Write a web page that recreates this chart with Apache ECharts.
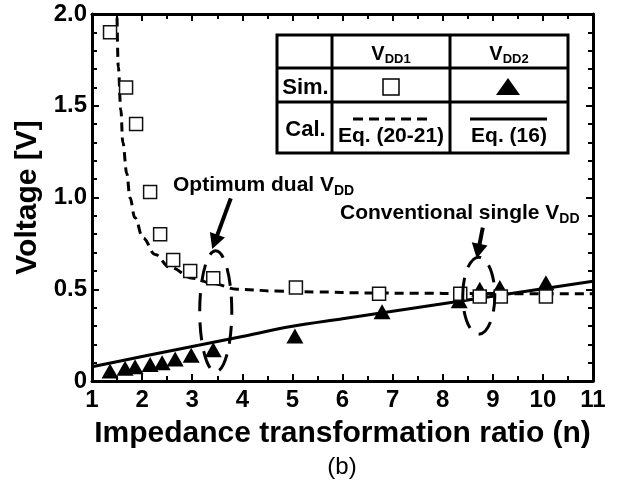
<!DOCTYPE html>
<html><head><meta charset="utf-8">
<script src="https://cdn.jsdelivr.net/npm/echarts@6/dist/echarts.min.js"></script>
<style>html,body{margin:0;padding:0;background:#fff}#c{width:618px;height:482px}</style>
</head><body><div id="c"></div>
<script>
// Simulated VDD1 (open squares)
const sim1X = [1.36, 1.68, 1.88, 2.16, 2.36, 2.62, 2.96, 3.42, 5.07, 6.73, 8.35, 8.74, 9.16, 10.06];
const sim1Y = [1.90, 1.60, 1.40, 1.03, 0.80, 0.66, 0.60, 0.56, 0.51, 0.475, 0.475, 0.46, 0.46, 0.46];
// Simulated VDD2 (filled triangles)
const sim2X = [1.36, 1.66, 1.86, 2.16, 2.40, 2.66, 2.98, 3.42, 5.05, 6.79, 8.33, 8.74, 9.14, 10.06];
const sim2Y = [0.055, 0.07, 0.077, 0.09, 0.10, 0.12, 0.14, 0.17, 0.245, 0.377, 0.437, 0.50, 0.51, 0.535];
// Calculated VDD1, Eq. (20-21) (dashed)
const cal1X = [1.50, 1.525, 1.575, 1.615, 1.695, 1.757, 1.856, 2.018, 2.259, 2.553, 3.016, 3.419, 3.892, 4.689, 5.5, 6.5, 7.5, 8.5, 9.5, 11];
const cal1Y = [1.98, 1.71, 1.48, 1.30, 1.13, 1.00, 0.89, 0.78, 0.69, 0.62, 0.56, 0.53, 0.50, 0.49, 0.485, 0.48, 0.478, 0.477, 0.476, 0.475];
// Calculated VDD2, Eq. (16) (solid)
const cal2X = [1, 2, 3, 4, 5, 6, 7, 8, 9, 10, 11];
const cal2Y = [0.078, 0.133, 0.188, 0.243, 0.298, 0.339, 0.38, 0.421, 0.462, 0.503, 0.544];
// Axis tick labels
const yTickLabels = {0: '0', 0.5: '0.5', 1: '1.0', 1.5: '1.5', 2: '2.0'};
// Annotations (data coordinates): ellipses [cx, cy, rx, ry], arrows [fromX, fromY, toX, toY]
const ellipses = [[3.47, 0.38, 0.32, 0.33], [8.72, 0.465, 0.32, 0.21]];
const arrows = [[3.77, 0.995, 3.40, 0.72], [8.80, 0.836, 8.68, 0.667]];

const FONT = '"Liberation Sans", Arial, Helvetica, sans-serif';
const pair = (xs, ys) => xs.map((x, i) => [x, ys[i]]);
const chart = echarts.init(document.getElementById('c'), null, {renderer: 'canvas'});

const axisCommon = {
  type: 'value',
  axisLine: {show: true, onZero: false, lineStyle: {color: '#000', width: 3}},
  axisTick: {show: true, inside: true, length: 7, lineStyle: {color: '#000', width: 2}},
  minorTick: {show: true, length: 5, lineStyle: {color: '#000', width: 2}},
  splitLine: {show: false}
};
const labelStyle = {fontFamily: FONT, fontWeight: 'bold', fontSize: 24, color: '#000'};
const titleStyle = {fontFamily: FONT, fontWeight: 'bold', fontSize: 30, color: '#000'};

const option = {
  animation: false,
  backgroundColor: '#fff',
  grid: {left: 92, right: 25, top: 14, bottom: 101},
  xAxis: [
    Object.assign({}, axisCommon, {
      min: 1, max: 11, interval: 1, position: 'bottom',
      minorTick: Object.assign({}, axisCommon.minorTick, {splitNumber: 2}),
      axisLabel: Object.assign({margin: 7}, labelStyle),
      name: 'Impedance transformation ratio (n)', nameLocation: 'middle', nameGap: 38,
      nameTextStyle: titleStyle
    }),
    Object.assign({}, axisCommon, {
      min: 1, max: 11, interval: 1, position: 'top',
      minorTick: Object.assign({}, axisCommon.minorTick, {splitNumber: 2}),
      axisLabel: {show: false}
    })
  ],
  yAxis: [
    Object.assign({}, axisCommon, {
      min: 0, max: 2, interval: 0.5, position: 'left',
      minorTick: Object.assign({}, axisCommon.minorTick, {splitNumber: 5}),
      axisLabel: Object.assign({margin: 5, formatter: v => yTickLabels[v] !== undefined ? yTickLabels[v] : ''}, labelStyle),
      name: 'Voltage [V]', nameLocation: 'middle', nameGap: 44,
      nameTextStyle: titleStyle
    }),
    Object.assign({}, axisCommon, {
      min: 0, max: 2, interval: 0.5, position: 'right',
      minorTick: Object.assign({}, axisCommon.minorTick, {splitNumber: 5}),
      axisLabel: {show: false}
    })
  ],
  series: [
    {type: 'line', name: 'Cal VDD2', data: pair(cal2X, cal2Y), showSymbol: false, smooth: 0.3,
     lineStyle: {color: '#000', width: 3}, z: 2},
    {type: 'line', name: 'Cal VDD1', data: pair(cal1X, cal1Y), showSymbol: false, smooth: 0.4, smoothMonotone: 'x',
     lineStyle: {color: '#000', width: 3, type: [9, 6]}, z: 2},
    {type: 'scatter', name: 'Sim VDD2', data: pair(sim2X, sim2Y), symbol: 'triangle', symbolSize: [17, 15],
     itemStyle: {color: '#000', opacity: 1}, z: 3},
    {type: 'scatter', name: 'Sim VDD1', data: pair(sim1X, sim1Y), symbol: 'rect', symbolSize: 13,
     itemStyle: {color: '#fff', borderColor: '#111', borderWidth: 1.5, opacity: 1}, z: 4}
  ]
};
chart.setOption(option);

// Annotations and table legend
const g = [];
const toPx = (x, y) => chart.convertToPixel({xAxisIndex: 0, yAxisIndex: 0}, [x, y]);
ellipses.forEach(e => {
  const c = toPx(e[0], e[1]);
  const r = toPx(e[0] + e[2], e[1] + e[3]);
  g.push({type: 'ellipse', shape: {cx: c[0], cy: c[1], rx: Math.abs(r[0] - c[0]), ry: Math.abs(r[1] - c[1])},
    style: {fill: null, stroke: '#000', lineWidth: 3, lineDash: [18, 11]}, z: 10});
});
arrows.forEach(a => {
  const p0 = toPx(a[0], a[1]), p1 = toPx(a[2], a[3]);
  const dx = p1[0] - p0[0], dy = p1[1] - p0[1], L = Math.hypot(dx, dy);
  const ux = dx / L, uy = dy / L, hl = 15, hw = 8;
  const bx = p1[0] - ux * hl, by = p1[1] - uy * hl;
  g.push({type: 'line', shape: {x1: p0[0], y1: p0[1], x2: bx + ux * 2, y2: by + uy * 2}, style: {stroke: '#000', lineWidth: 4}, z: 10});
  g.push({type: 'polygon', shape: {points: [[p1[0], p1[1]], [bx - uy * hw, by + ux * hw], [bx + uy * hw, by - ux * hw]]},
    style: {fill: '#000'}, z: 10});
});
const rich = {
  n: {fontFamily: FONT, fontWeight: 'bold', fontSize: 21, fill: '#000'},
  s: {fontFamily: FONT, fontWeight: 'bold', fontSize: 14, fill: '#000', padding: [12, 0, 0, 0]}
};
g.push({type: 'text', left: 173, top: 175, style: {text: '{n|Optimum dual V}{s|DD}', rich: rich}, z: 10});
g.push({type: 'text', left: 340, top: 203, style: {text: '{n|Conventional single V}{s|DD}', rich: rich}, z: 10});

// table legend
const T = {x0: 277, x1: 332, x2: 450, x3: 568, y0: 35, y1: 68, y2: 102, y3: 153};
g.push({type: 'rect', shape: {x: T.x0, y: T.y0, width: T.x3 - T.x0, height: T.y3 - T.y0},
  style: {fill: '#fff', stroke: '#000', lineWidth: 3}, z: 20});
[[T.x1, T.y0, T.x1, T.y3], [T.x2, T.y0, T.x2, T.y3], [T.x0, T.y1, T.x3, T.y1], [T.x0, T.y2, T.x3, T.y2]].forEach(l => {
  g.push({type: 'line', shape: {x1: l[0], y1: l[1], x2: l[2], y2: l[3]}, style: {stroke: '#000', lineWidth: 3}, z: 21});
});
const tStyle = (txt, x, y, size) => ({type: 'text', x: x, y: y, z: 22,
  style: {text: txt, fontFamily: FONT, fontWeight: 'bold', fontSize: size || 22, fill: '#000', align: 'center', verticalAlign: 'middle'}});
const rich2 = {
  n: {fontFamily: FONT, fontWeight: 'bold', fontSize: 20, fill: '#000'},
  s: {fontFamily: FONT, fontWeight: 'bold', fontSize: 13, fill: '#000', padding: [11, 0, 0, 0]}
};
const cx1 = (T.x1 + T.x2) / 2, cx2 = (T.x2 + T.x3) / 2;
g.push({type: 'text', x: cx1, y: 54, z: 22, style: {text: '{n|V}{s|DD1}', rich: rich2, align: 'center', verticalAlign: 'middle'}});
g.push({type: 'text', x: cx2, y: 54, z: 22, style: {text: '{n|V}{s|DD2}', rich: rich2, align: 'center', verticalAlign: 'middle'}});
g.push(tStyle('Sim.', (T.x0 + T.x1) / 2 + 1, 88, 22));
g.push(tStyle('Cal.', (T.x0 + T.x1) / 2 + 1, 130, 22));
g.push(tStyle('Eq. (20-21)', cx1, 136, 21));
g.push(tStyle('Eq. (16)', cx2, 136, 21));
g.push({type: 'rect', shape: {x: cx1 - 8, y: 79, width: 16, height: 16}, style: {fill: '#fff', stroke: '#000', lineWidth: 1.5}, z: 22});
g.push({type: 'polygon', shape: {points: [[cx2 - 1, 78], [cx2 - 13, 95], [cx2 + 11, 95]]}, style: {fill: '#000'}, z: 22});
g.push({type: 'line', shape: {x1: cx1 - 38, y1: 119, x2: cx1 + 37, y2: 119}, style: {stroke: '#000', lineWidth: 3, lineDash: [10, 6]}, z: 22});
g.push({type: 'line', shape: {x1: cx2 - 39, y1: 119, x2: cx2 + 38, y2: 119}, style: {stroke: '#000', lineWidth: 3}, z: 22});
g.push({type: 'text', x: 342, y: 467, z: 22,
  style: {text: '(b)', fontFamily: FONT, fontSize: 24, fill: '#000', align: 'center', verticalAlign: 'middle'}});
chart.setOption({graphic: g});
</script>
</body></html>
